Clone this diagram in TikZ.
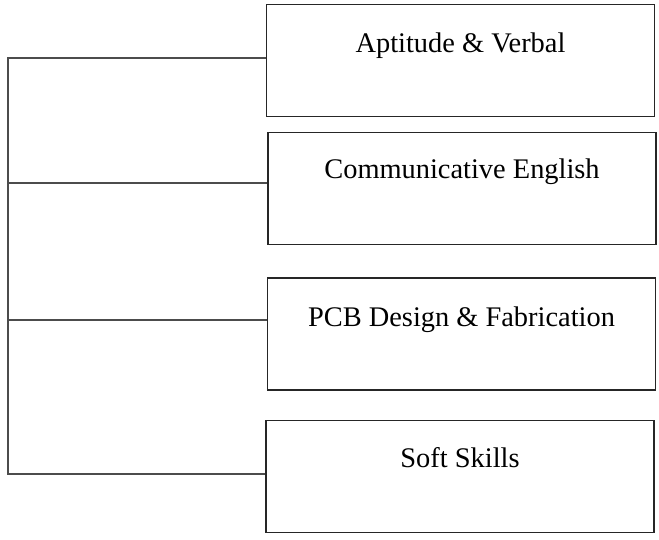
\documentclass[tikz,border=0pt]{standalone}
\usepackage{fontspec}
\setmainfont{Liberation Serif}
\usetikzlibrary{positioning}
\tikzset{
  tbox/.style={draw=black!85,line width=1.6pt,minimum width=388pt,minimum height=112pt,inner sep=0pt},
  tlab/.style={anchor=base,font=\fontsize{28.4}{34}\selectfont},
  conn/.style={draw=black!70,line width=1.3pt},
  every picture/.style={x=1pt,y=-1pt}
}

\begin{document}
\begin{tikzpicture}
  \useasboundingbox (0,0) rectangle (659,540);
  \node[tbox] (apt) at (460.5,60.5) {}; \node[tlab] (apttxt) at ([yshift=-49pt]apt.north) {Aptitude \& Verbal};
  \node[tbox] (eng) at (462,188.5) {}; \node[tlab] (engtxt) at ([yshift=-47pt]eng.north) {Communicative English};
  \node[tbox] (pcb) at (461.5,334) {}; \node[tlab] (pcbtxt) at ([yshift=-49pt]pcb.north) {PCB Design \& Fabrication};
  \node[tbox] (soft) at (460,476.5) {}; \node[tlab] (softtxt) at ([yshift=-48pt]soft.north) {Soft Skills};
  \coordinate (s1) at (8,58); \coordinate (s2) at (8,183); \coordinate (s3) at (8,320); \coordinate (s4) at (8,474);
  \draw[conn] (s1 -| apt.west) -- (s1) -- (s4) -- (s4 -| soft.west);
  \draw[conn] (s2) -- (s2 -| eng.west); \draw[conn] (s3) -- (s3 -| pcb.west);
\end{tikzpicture}
\end{document}
